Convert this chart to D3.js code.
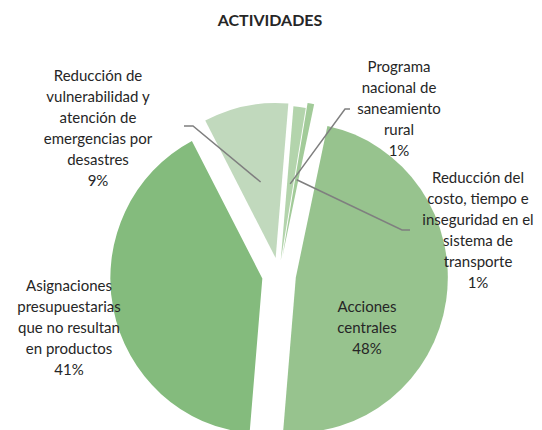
<!DOCTYPE html>
<html>
<head>
<meta charset="utf-8">
<script src="https://cdn.jsdelivr.net/npm/d3@7"></script>
<style>
  body { margin: 0; background: #fff; }
  text { font-family: Lato, "Open Sans", sans-serif; fill: #262626; }
</style>
</head>
<body>
<div id="chart"></div>
<script>
var width = 542, height = 430;

// data
const categories = [
  "Acciones centrales",
  "Asignaciones presupuestarias que no resultan en productos",
  "Reducción de vulnerabilidad y atención de emergencias por desastres",
  "Programa nacional de saneamiento rural",
  "Reducción del costo, tiempo e inseguridad en el sistema de transporte"
];
const values = [48, 41, 9, 1.3, 0.7];
const labelLines = [
  ["Acciones", "centrales"],
  ["Asignaciones", "presupuestarias", "que no resultan", "en productos"],
  ["Reducción de", "vulnerabilidad y", "atención de", "emergencias por", "desastres"],
  ["Programa", "nacional de", "saneamiento", "rural"],
  ["Reducción del", "costo, tiempo e", "inseguridad en el", "sistema de", "transporte"]
];

// look
const colors = ["#97c38e", "#84bb7d", "#c1d9bd", "#b3d4ac", "#a2cb99"];
const cx = 279, cy = 275, R = 152, sy = 1.02;
const explode = [17, 17, 17, 14, 19];
// label block: centre x, first baseline y, leader elbow (or null)
const labelPos = [
  {x: 367, y: 312, elbow: null},
  {x: 69, y: 291, elbow: null},
  {x: 98, y: 81, elbow: [[193, 126], [184, 126]]},
  {x: 399, y: 72, elbow: [[345, 109], [350, 109]]},
  {x: 478, y: 183, elbow: [[402, 230], [410, 230]]}
];
const lineH = 21;

const svg = d3.select("#chart").append("svg")
  .attr("width", width)
  .attr("height", height);

svg.append("rect").attr("width", width).attr("height", height).attr("fill", "#fff");

svg.append("text")
  .attr("x", 270)
  .attr("y", 26)
  .attr("text-anchor", "middle")
  .attr("font-size", "16px")
  .attr("font-weight", "bold")
  .text("ACTIVIDADES");

const a0 = 12 * Math.PI / 180;
const pie = d3.pie().sort(null).startAngle(a0).endAngle(a0 + 2 * Math.PI);
const arcs = pie(values);
const arc = d3.arc().innerRadius(0).outerRadius(R);

const offset = (d, i) => {
  const mid = (d.startAngle + d.endAngle) / 2;
  return [explode[i] * Math.sin(mid), -explode[i] * Math.cos(mid)];
};

const g = svg.append("g").attr("transform", `translate(${cx},${cy}) scale(1,${sy})`);

g.selectAll("path.slice")
  .data(arcs)
  .enter().append("path")
  .attr("class", "slice")
  .attr("d", arc)
  .attr("fill", (d, i) => colors[i])
  .attr("transform", (d, i) => `translate(${offset(d, i)})`);

// leader lines
const pct = d3.format(".0%");
const total = d3.sum(values);

arcs.forEach((d, i) => {
  const lp = labelPos[i];
  if (!lp.elbow) return;
  const c = arc.centroid(d);
  const o = offset(d, i);
  const pts = [[cx + c[0] + o[0], cy + (c[1] + o[1]) * sy]].concat(lp.elbow);
  svg.append("path")
    .attr("d", d3.line()(pts))
    .attr("fill", "none")
    .attr("stroke", "#7f7f7f")
    .attr("stroke-width", 1.5);
});

// labels
arcs.forEach((d, i) => {
  const lp = labelPos[i];
  const lines = labelLines[i].concat([pct(d.data / total)]);
  const t = svg.append("text")
    .attr("text-anchor", "middle")
    .attr("font-size", "15px");
  lines.forEach((l, k) => {
    t.append("tspan")
      .attr("x", lp.x)
      .attr("y", lp.y + k * lineH)
      .text(l);
  });
});
</script>
</body>
</html>
